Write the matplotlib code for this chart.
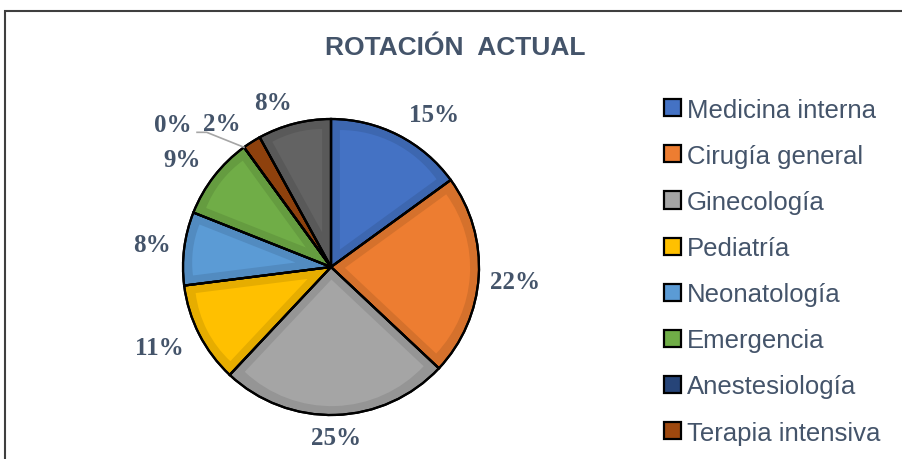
import matplotlib
matplotlib.use("Agg")
import matplotlib.pyplot as plt
from matplotlib.patches import Rectangle, Wedge, Patch
import numpy as np

categories = ["Medicina interna", "Cirugía general", "Ginecología", "Pediatría",
              "Neonatología", "Emergencia", "Anestesiología", "Terapia intensiva", ""]
values = [15, 22, 25, 11, 8, 9, 0, 2, 8]
colors = ["#4472C4", "#ED7D31", "#A5A5A5", "#FFC000", "#5B9BD5",
          "#70AD47", "#264478", "#9E480E", "#636363"]
legend_count = 8
txt_color = "#44546A"

# label placement (angle nudge in degrees, radial distance)
lab_nudge = [-7, -1, 0, -2, 0, 2, 12, 5, 5]
lab_dist = [1.24, 1.25, 1.15, 1.28, 1.22, 1.24, 1.44, 1.22, 1.18]

fig = plt.figure(figsize=(9.03, 4.6), dpi=100)
fig.patch.set_facecolor("white")

# frame of the chart area
fig.add_artist(Rectangle((5 / 903, -0.1), 1.2, (448 + 46) / 460,
                         transform=fig.transFigure, fill=False,
                         edgecolor="#3f3f3f", lw=1.5))

fig.text(455 / 903, 1 - 48 / 460, "ROTACIÓN  ACTUAL", ha="center", va="center",
         fontsize=19, fontweight="bold", color=txt_color,
         family=["Liberation Sans Narrow", "Liberation Sans", "DejaVu Sans"])

# axes: 148 px per unit, pie centre at (331, 268)
L = 2.0
ax = fig.add_axes([(331 - 296) / 903, (192 - 296) / 460, 592 / 903, 592 / 460])
wedges, _ = ax.pie(values, colors=colors, startangle=90, counterclock=False,
                   wedgeprops=dict(edgecolor="black", linewidth=1.6))
ax.set_xlim(-L, L)
ax.set_ylim(-L, L)
ax.axis("off")


def shade(c, f):
    rgb = np.array(matplotlib.colors.to_rgb(c))
    return tuple(rgb * f)


# bevel-like inner highlight
for w, c in zip(wedges, colors):
    w.set_facecolor(shade(c, 0.9))
    t1, t2 = w.theta1, w.theta2
    span = t2 - t1
    if span < 1:
        continue
    h = np.radians(span / 2)
    d = 0.06
    s = d / np.sin(min(h, np.pi / 2))
    R = 1 - d - s
    if R < 0.08:
        continue
    mid = np.radians((t1 + t2) / 2)
    cx, cy = s * np.cos(mid), s * np.sin(mid)
    ax.add_patch(Wedge((cx, cy), R, t1, t2, facecolor=c, edgecolor="none", zorder=1.5))
    w.set_zorder(1)

# edges redrawn on top
for w in wedges:
    ax.add_patch(Wedge((0, 0), 1, w.theta1, w.theta2, facecolor="none",
                       edgecolor="black", lw=1.6, zorder=2))

for i, (w, v) in enumerate(zip(wedges, values)):
    mid = np.radians((w.theta1 + w.theta2) / 2 + lab_nudge[i])
    x, y = lab_dist[i] * np.cos(mid), lab_dist[i] * np.sin(mid)
    ax.text(x, y, f"{v}%", ha="center", va="center", fontsize=18,
            fontweight="bold", color=txt_color, family="Liberation Serif")
    if v == 0:
        a = np.radians(w.theta1)
        ex, ey = np.cos(a), np.sin(a)
        ax.plot([ex, -0.84, -0.905], [ey, 0.91, 0.91], color="#A6A6A6", lw=1.2,
                zorder=3, clip_on=False)

handles = [Patch(facecolor=colors[i], edgecolor="black", lw=1.6)
           for i in range(legend_count)]
leg = fig.legend(handles, categories[:legend_count], loc="upper left",
                 bbox_to_anchor=(651 / 903, 1 - 86 / 460), frameon=False,
                 handlelength=0.65, handleheight=0.65,
                 handletextpad=0.25, labelspacing=0.86, borderpad=0,
                 prop=dict(family="Liberation Sans", size=18.5))
for t in leg.get_texts():
    t.set_color(txt_color)

fig.savefig("out.png", dpi=100)
